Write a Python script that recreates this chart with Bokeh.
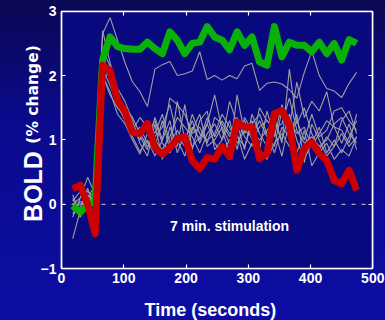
from bokeh.plotting import figure
from bokeh.models import Range1d, LinearAxis, Label, FixedTicker, BoxAnnotation
from bokeh.embed import file_html
from bokeh.resources import INLINE
from math import pi

# ---------------- data ----------------
time_s = [18, 30, 42, 54, 66, 78, 90, 102, 114, 126, 138, 150, 162, 174, 186, 198,
          210, 222, 234, 246, 258, 270, 282, 294, 306, 318, 330, 342, 354, 366,
          378, 390, 402, 414, 426, 438, 450, 462, 474]

green_mean = [-0.02, -0.12, -0.02, 0.06, 2.25, 2.60, 2.45, 2.42, 2.41, 2.41, 2.52,
              2.42, 2.34, 2.68, 2.55, 2.34, 2.50, 2.52, 2.76, 2.60, 2.55, 2.40,
              2.68, 2.47, 2.60, 2.21, 2.16, 2.76, 2.29, 2.52, 2.47, 2.47, 2.37,
              2.52, 2.34, 2.50, 2.24, 2.56, 2.50]

red_mean = [0.24, 0.30, 0.00, -0.46, 2.16, 2.08, 1.62, 1.44, 1.12, 1.10, 1.26,
            0.88, 0.78, 0.88, 1.02, 1.05, 0.68, 0.55, 0.73, 0.70, 0.90, 0.74,
            1.28, 1.20, 1.20, 0.71, 0.79, 1.41, 1.46, 1.23, 0.53, 0.87, 0.97,
            0.79, 0.68, 0.37, 0.32, 0.53, 0.22]

gray_1 = [0.15, -0.15, 0.05, 0.10, 2.65, 2.90, 2.55, 2.20, 1.90, 1.75, 1.52, 2.10,
          2.17, 2.22, 2.00, 2.03, 2.07, 2.37, 1.94, 2.00, 1.93, 2.00, 1.95, 2.15,
          2.19, 1.77, 1.88, 1.90, 1.87, 1.78, 1.65, 2.05, 2.38, 2.00, 1.80, 1.76,
          1.66, 1.88, 2.05]
gray_2 = [-0.53, -0.10, 0.00, 0.20, 2.00, 1.70, 1.50, 1.35, 1.25, 1.05, 0.85, 1.35,
          1.00, 1.65, 1.55, 1.40, 1.10, 1.20, 0.95, 1.35, 1.25, 1.05, 1.35, 1.05,
          0.90, 1.50, 1.30, 1.20, 1.25, 1.65, 1.15, 0.95, 1.05, 0.90, 1.00, 1.25,
          1.35, 1.10, 0.95]
gray_3 = [-0.20, 0.10, 0.42, 0.15, 2.70, 2.20, 1.80, 1.60, 1.30, 0.95, 0.75, 1.25,
          0.70, 1.20, 0.90, 1.55, 0.85, 1.30, 1.45, 0.85, 1.00, 1.60, 1.25, 0.85,
          1.40, 1.10, 0.90, 1.35, 0.95, 2.10, 1.25, 1.50, 1.10, 0.85, 1.05, 0.90,
          1.30, 1.45, 1.10]
gray_4 = [0.05, 0.20, 0.15, 0.00, 2.30, 2.00, 1.70, 1.40, 1.15, 1.35, 1.20, 0.90,
          1.30, 0.85, 1.60, 1.00, 1.30, 0.95, 1.25, 1.70, 1.15, 0.80, 1.70, 1.10,
          1.30, 0.85, 1.45, 1.05, 1.55, 1.20, 1.90, 1.35, 1.60, 1.45, 1.75, 1.20,
          0.95, 1.25, 0.85]
gray_5 = [-0.10, -0.05, 0.25, -0.10, 1.90, 2.10, 1.60, 1.45, 1.20, 1.00, 1.30, 1.10,
          1.40, 0.95, 1.15, 0.95, 1.40, 1.10, 1.00, 1.10, 1.40, 1.20, 0.95, 1.15,
          1.05, 1.30, 1.05, 0.90, 1.45, 1.05, 1.30, 1.00, 1.40, 1.05, 1.15, 1.45,
          1.50, 1.30, 1.15]
gray_6 = [0.10, -0.20, 0.10, 0.30, 2.10, 1.85, 1.55, 1.30, 1.05, 0.82, 1.00, 0.75,
          1.00, 1.30, 0.80, 1.10, 0.90, 1.05, 1.25, 0.95, 0.80, 1.00, 1.10, 0.70,
          0.95, 0.85, 0.70, 0.95, 1.10, 0.90, 0.80, 1.15, 0.60, 0.80, 0.95, 0.70,
          0.85, 0.75, 1.05]
gray_7 = [-0.15, 0.05, -0.05, 0.05, 2.20, 1.95, 1.65, 1.35, 1.10, 1.20, 0.95, 1.00,
          0.85, 1.05, 1.35, 1.20, 1.05, 0.80, 1.10, 1.25, 1.00, 1.30, 0.85, 1.35,
          1.15, 1.00, 1.15, 1.30, 1.00, 1.40, 1.00, 0.70, 0.95, 1.20, 0.80, 1.00,
          0.80, 1.05, 1.30]
gray_8 = [0.00, 0.10, 0.20, 0.10, 2.00, 1.75, 1.40, 1.25, 1.00, 0.78, 1.10, 1.30,
          0.95, 0.80, 1.00, 0.75, 1.15, 1.40, 0.90, 1.00, 1.20, 0.95, 1.05, 0.90,
          1.25, 1.40, 1.10, 0.80, 1.20, 1.05, 1.40, 0.65, 1.25, 1.00, 0.75, 0.90,
          1.10, 0.90, 1.05]
gray_9 = [-0.05, 0.00, 0.10, -0.05, 2.40, 2.15, 1.70, 1.50, 1.35, 1.10, 0.90, 1.05,
          1.20, 1.55, 1.05, 0.90, 1.20, 1.00, 1.35, 1.05, 1.30, 1.10, 1.20, 1.30,
          1.00, 1.20, 1.30, 1.15, 0.75, 1.30, 1.10, 1.20, 0.90, 1.10, 1.30, 1.20,
          1.15, 0.95, 1.40]
gray_series = [gray_1, gray_2, gray_3, gray_4, gray_5, gray_6, gray_7, gray_8, gray_9]

x_ticks = [0, 100, 200, 300, 400, 500]
y_ticks = [-1, 0, 1, 2, 3]

# ---------------- figure ----------------
FONT = "Liberation Sans"
X0, X1 = x_ticks[0], x_ticks[-1]
Y0, Y1 = y_ticks[0], y_ticks[-1]

p = figure(width=385, height=320, output_backend="svg", toolbar_location=None,
           x_range=Range1d(-98, 520.4), y_range=Range1d(-1.803, 3.166),
           x_axis_location=None, y_axis_location=None,
           min_border=0, min_border_left=0, min_border_right=0,
           min_border_top=0, min_border_bottom=0)
p.styles = {"background": "linear-gradient(to bottom, #0a0852 0%, #0a0a8e 38%, #0d0da4 100%)"}
p.border_fill_alpha = 0
p.background_fill_alpha = 0
p.outline_line_color = None
p.grid.visible = False

# navy data area with white frame
p.add_layout(BoxAnnotation(left=X0, right=X1, bottom=Y0, top=Y1,
                           fill_color="#08087f", fill_alpha=1,
                           line_color="white", line_width=1.6, level="underlay"))


def make_axis(ticks, loc_value, labels):
    ax = LinearAxis(ticker=FixedTicker(ticks=ticks), fixed_location=loc_value,
                    bounds=(ticks[0], ticks[-1]))
    ax.axis_line_color = "white"
    ax.axis_line_width = 1.6
    ax.major_tick_line_color = "white"
    ax.major_tick_line_width = 1.2
    ax.major_tick_in = 4
    ax.major_tick_out = 0
    ax.minor_tick_line_color = None
    if labels:
        ax.major_label_text_color = "white"
        ax.major_label_text_font = FONT
        ax.major_label_text_font_style = "bold"
        ax.major_label_text_font_size = "14px"
    else:
        ax.major_label_text_color = None
    return ax


ax_b = make_axis(x_ticks, Y0, True)
ax_b.major_label_standoff = 4
ax_l = make_axis(y_ticks, X0, True)
ax_l.major_label_standoff = 5
ax_t = make_axis(x_ticks, Y1, False)
ax_r = make_axis(y_ticks, X1, False)
p.add_layout(ax_b, "below")
p.add_layout(ax_l, "left")
p.add_layout(ax_t, "above")
p.add_layout(ax_r, "right")

# dashed zero reference line across the data area
p.segment(x0=[X0], x1=[X1], y0=[0], y1=[0], line_color="#a8a8bc",
          line_width=1.2, line_dash="4 6")

for g in gray_series:
    p.line(time_s, g, line_color="#a0a0a0", line_width=1.1)
p.line(time_s, green_mean, line_color="#08b008", line_width=7, line_join="round")
p.line(time_s, red_mean, line_color="#cc0000", line_width=7, line_join="round")

p.add_layout(Label(x=270, y=-0.338, text="7 min. stimulation", text_color="white",
                   text_font=FONT, text_font_style="bold", text_font_size="14px",
                   text_align="center", text_baseline="alphabetic"))
p.add_layout(Label(x=239, y=-1.64, text="Time (seconds)", text_color="white",
                   text_font=FONT, text_font_style="bold", text_font_size="18px",
                   text_align="center", text_baseline="alphabetic"))
p.add_layout(Label(x=-45, y=0.278, text="BOLD", text_color="white", angle=pi / 2,
                   text_font=FONT, text_font_style="bold", text_font_size="25px",
                   text_align="center", text_baseline="alphabetic"))
p.add_layout(Label(x=-45, y=1.707, text="(% change)", text_color="white", angle=pi / 2,
                   text_font="DejaVu Sans", text_font_style="bold", text_font_size="15.5px",
                   text_align="center", text_baseline="alphabetic"))

open("out.html", "w").write(file_html(p, INLINE))
